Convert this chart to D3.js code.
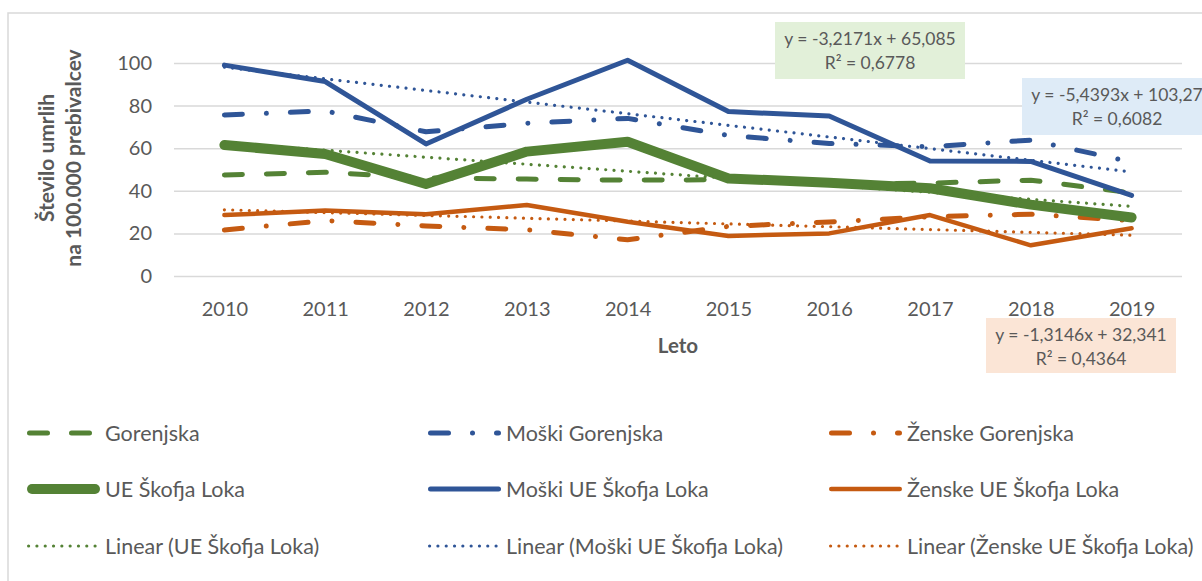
<!DOCTYPE html>
<html>
<head>
<meta charset="utf-8">
<script src="https://cdn.jsdelivr.net/npm/d3@7"></script>
<style>
    body { margin: 0; background: #fff; }
    text { font-family: Lato, "Open Sans", sans-serif; fill: #595959; }
</style>
</head>
<body>
<div id="chart"></div>
<script>
(function () {
    // data
    var years = [2010, 2011, 2012, 2013, 2014, 2015, 2016, 2017, 2018, 2019];
    var gorenjska       = [47.4, 48.7, 46.0, 45.5, 45.0, 45.2, 43.0, 43.6, 45.0, 39.0];
    var moskiGorenjska  = [75.6, 77.5, 67.7, 71.7, 74.0, 66.0, 62.2, 60.7, 63.8, 53.5];
    var zenskeGorenjska = [21.6, 26.0, 23.5, 21.7, 17.0, 23.3, 25.4, 27.8, 29.0, 26.0];
    var ueSkofjaLoka    = [61.5, 57.3, 43.2, 58.4, 63.0, 45.8, 43.8, 41.2, 33.5, 27.5];
    var moskiUE         = [99.0, 91.3, 62.0, 83.0, 101.3, 77.2, 75.1, 54.0, 53.8, 37.8];
    var zenskeUE        = [28.6, 30.7, 29.0, 33.3, 25.5, 18.8, 20.0, 28.6, 14.4, 22.4];
    var yTicks = [0, 20, 40, 60, 80, 100];
    var trendEquations = ["y = -3,2171x + 65,085", "y = -5,4393x + 103,27", "y = -1,3146x + 32,341"];
    var trendR2 = ["R² = 0,6778", "R² = 0,6082", "R² = 0,4364"];

    var width = 1202, height = 581;
    var green = "#548235", blue = "#2f5597", orange = "#c55a11";

    var svg = d3.select("#chart").append("svg")
        .attr("width", width)
        .attr("height", height);

    // chart area border (cropped on the right and bottom)
    svg.append("rect")
        .attr("x", 8).attr("y", 13)
        .attr("width", 1300).attr("height", 700)
        .attr("fill", "#fff")
        .attr("stroke", "#d9d9d9")
        .attr("stroke-width", 1.5);

    var x = d3.scalePoint().domain(years).range([174, 1182]).padding(0.5);
    var y = d3.scaleLinear().domain([0, 100]).range([276, 63]);

    // y axis + gridlines
    var yAxis = svg.append("g")
        .attr("transform", "translate(174,0)")
        .call(d3.axisLeft(y).tickValues(yTicks).tickSize(-(1182 - 174)).tickPadding(22));
    yAxis.select(".domain").remove();
    yAxis.selectAll(".tick line").attr("stroke", "#d9d9d9").attr("stroke-width", 1.5);
    yAxis.selectAll(".tick text")
        .style("font-size", "20px")
        .style("font-family", "Lato")
        .attr("fill", "#595959");

    // x axis labels
    var xAxis = svg.append("g")
        .attr("transform", "translate(0,276)")
        .call(d3.axisBottom(x).tickSize(0).tickPadding(26));
    xAxis.select(".domain").remove();
    xAxis.selectAll(".tick text")
        .style("font-size", "20px")
        .style("font-family", "Lato")
        .attr("fill", "#595959");

    svg.append("text")
        .attr("x", 678).attr("y", 353)
        .attr("text-anchor", "middle")
        .style("font-size", "20.5px").style("font-weight", "bold")
        .text("Leto");

    svg.append("text")
        .attr("transform", "translate(54,158) rotate(-90)")
        .attr("text-anchor", "middle")
        .style("font-size", "21px").style("font-weight", "bold")
        .text("Število umrlih");
    svg.append("text")
        .attr("transform", "translate(81,158) rotate(-90)")
        .attr("text-anchor", "middle")
        .style("font-size", "21px").style("font-weight", "bold")
        .text("na 100.000 prebivalcev");

    var series = [
        {name: "Gorenjska", values: gorenjska, color: green, w: 5, dash: "18,24"},
        {name: "Moški Gorenjska", values: moskiGorenjska, color: blue, w: 5, dash: "18,24,0.01,24"},
        {name: "Ženske Gorenjska", values: zenskeGorenjska, color: orange, w: 5, dash: "18,24,0.01,24"},
        {name: "UE Škofja Loka", values: ueSkofjaLoka, color: green, w: 10, dash: null},
        {name: "Moški UE Škofja Loka", values: moskiUE, color: blue, w: 5, dash: null},
        {name: "Ženske UE Škofja Loka", values: zenskeUE, color: orange, w: 4.5, dash: null}
    ];

    var line = d3.line()
        .x(function (d) { return x(d[0]); })
        .y(function (d) { return y(d[1]); });

    svg.append("g").selectAll("path")
        .data(series)
        .enter().append("path")
        .attr("d", function (s) {
            return line(years.map(function (yr, i) { return [yr, s.values[i]]; }));
        })
        .attr("fill", "none")
        .attr("stroke", function (s) { return s.color; })
        .attr("stroke-width", function (s) { return s.w; })
        .attr("stroke-dasharray", function (s) { return s.dash; })
        .attr("stroke-linecap", "round")
        .attr("stroke-linejoin", "round");

    // least squares trend, x = 1..n like Excel
    function linearFit(values) {
        var n = values.length;
        var mx = (n + 1) / 2, my = d3.mean(values);
        var sxy = d3.sum(values, function (v, i) { return (i + 1 - mx) * (v - my); });
        var sxx = d3.sum(values, function (v, i) { return (i + 1 - mx) * (i + 1 - mx); });
        var b = sxy / sxx;
        return [my - b * mx, b];
    }

    var trends = [
        {name: "Linear (UE Škofja Loka)", values: ueSkofjaLoka, color: green},
        {name: "Linear (Moški UE Škofja Loka)", values: moskiUE, color: blue},
        {name: "Linear (Ženske UE Škofja Loka)", values: zenskeUE, color: orange}
    ];

    svg.append("g").selectAll("path")
        .data(trends)
        .enter().append("path")
        .attr("d", function (t) {
            var fit = linearFit(t.values);
            var n = years.length;
            return line([[years[0], fit[0] + fit[1]], [years[n - 1], fit[0] + fit[1] * n]]);
        })
        .attr("fill", "none")
        .attr("stroke", function (t) { return t.color; })
        .attr("stroke-width", 3.2)
        .attr("stroke-dasharray", "0.01,8.3")
        .attr("stroke-linecap", "round");

    // trendline labels
    var boxes = [
        {x: 775, y: 22, w: 190, h: 57, fill: "#e2f0d9"},
        {x: 1022, y: 78, w: 190, h: 57, fill: "#deebf7"},
        {x: 986, y: 318, w: 190, h: 55, fill: "#fbe5d6"}
    ];
    var boxG = svg.append("g").selectAll("g")
        .data(boxes)
        .enter().append("g")
        .attr("transform", function (b) { return "translate(" + b.x + "," + b.y + ")"; });
    boxG.append("rect")
        .attr("width", function (b) { return b.w; })
        .attr("height", function (b) { return b.h; })
        .attr("fill", function (b) { return b.fill; });
    boxG.append("text")
        .attr("x", function (b) { return b.w / 2; })
        .attr("y", 23)
        .attr("text-anchor", "middle")
        .style("font-size", "17.5px")
        .text(function (b, i) { return trendEquations[i]; });
    boxG.append("text")
        .attr("x", function (b) { return b.w / 2; })
        .attr("y", 47)
        .attr("text-anchor", "middle")
        .style("font-size", "17.5px")
        .text(function (b, i) { return trendR2[i]; });

    // legend, 3 columns x 3 rows
    var legendItems = series.map(function (s) {
        return {name: s.name, color: s.color, w: s.w, dash: s.dash};
    }).concat(trends.map(function (t) {
        return {name: t.name, color: t.color, w: 3.2, dash: "0.01,8.3"};
    }));
    var colX = [27, 428, 829], rowY = [433, 489, 546];

    var legend = svg.append("g").selectAll("g")
        .data(legendItems)
        .enter().append("g")
        .attr("transform", function (d, i) {
            return "translate(" + colX[i % 3] + "," + rowY[Math.floor(i / 3)] + ")";
        });
    legend.append("line")
        .attr("x1", function (d) { return d.w / 2; })
        .attr("x2", function (d) { return 73 - d.w / 2; })
        .attr("stroke", function (d) { return d.color; })
        .attr("stroke-width", function (d) { return d.w; })
        .attr("stroke-dasharray", function (d) { return d.dash; })
        .attr("stroke-linecap", "round");
    legend.append("text")
        .attr("x", 78)
        .attr("dy", "0.36em")
        .style("font-size", "21.5px")
        .text(function (d) { return d.name; });
})();
</script>
</body>
</html>
